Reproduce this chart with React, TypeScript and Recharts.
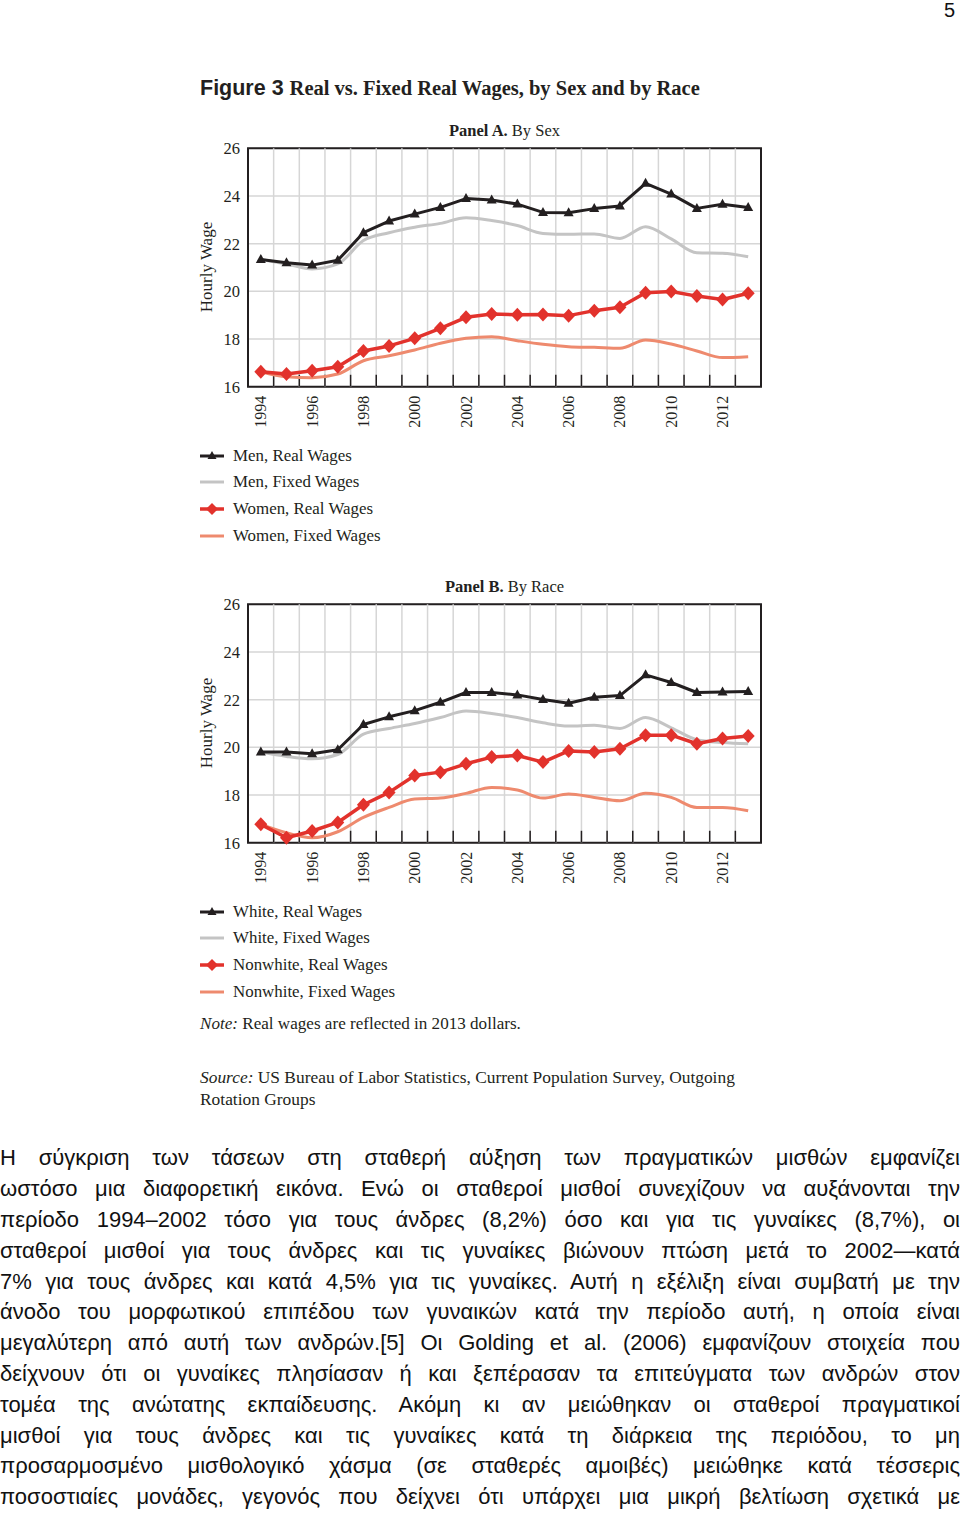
import React from 'react';
import { LineChart, Line, XAxis, YAxis, CartesianGrid, ReferenceLine, ReferenceArea } from 'recharts';

const SERIF = '"Liberation Serif", "DejaVu Serif", serif';
const SANS = '"Liberation Sans", Arial, sans-serif';
const INK = '#231f20';
const GRAY = '#c4c4c4';
const RED = '#e2322c';
const SALMON = '#ee8a6e';
const GRID = '#d6d6d6';

// ---------- data ----------
const years = [1994, 1995, 1996, 1997, 1998, 1999, 2000, 2001, 2002, 2003, 2004, 2005, 2006, 2007, 2008, 2009, 2010, 2011, 2012, 2013];
const yearTickLabels = [1994, 1996, 1998, 2000, 2002, 2004, 2006, 2008, 2010, 2012];
const wageTicks = [16, 18, 20, 22, 24, 26];
const bandEdges = [1994.5, 1995.5, 1996.5, 1997.5, 1998.5, 1999.5, 2000.5, 2001.5, 2002.5, 2003.5, 2004.5, 2005.5, 2006.5, 2007.5, 2008.5, 2009.5, 2010.5, 2011.5, 2012.5];

// Panel A: by sex
const menReal = [21.34, 21.2, 21.1, 21.3, 22.46, 22.95, 23.24, 23.52, 23.89, 23.83, 23.66, 23.31, 23.3, 23.47, 23.58, 24.53, 24.08, 23.48, 23.65, 23.52];
const menFixed = [21.34, 21.15, 20.94, 21.15, 22.13, 22.46, 22.69, 22.85, 23.09, 22.97, 22.76, 22.43, 22.39, 22.41, 22.22, 22.71, 22.2, 21.62, 21.6, 21.45];
const womenReal = [16.63, 16.53, 16.67, 16.84, 17.5, 17.71, 18.03, 18.45, 18.91, 19.05, 19.02, 19.03, 18.98, 19.19, 19.33, 19.94, 19.99, 19.8, 19.66, 19.92];
const womenFixed = [16.63, 16.42, 16.38, 16.53, 17.09, 17.3, 17.54, 17.82, 18.03, 18.1, 17.93, 17.78, 17.68, 17.65, 17.61, 17.96, 17.79, 17.5, 17.22, 17.26];

// Panel B: by race
const whiteReal = [19.8, 19.8, 19.73, 19.9, 20.96, 21.28, 21.54, 21.89, 22.3, 22.3, 22.2, 22.01, 21.85, 22.1, 22.17, 23.04, 22.72, 22.3, 22.32, 22.34];
const whiteFixed = [19.8, 19.62, 19.52, 19.7, 20.55, 20.79, 21.0, 21.25, 21.52, 21.42, 21.25, 21.03, 20.89, 20.93, 20.79, 21.25, 20.82, 20.32, 20.2, 20.15];
const nonwhiteReal = [16.77, 16.21, 16.49, 16.85, 17.59, 18.11, 18.82, 18.96, 19.31, 19.59, 19.66, 19.38, 19.85, 19.8, 19.94, 20.51, 20.51, 20.15, 20.37, 20.48];
const nonwhiteFixed = [16.77, 16.42, 16.21, 16.46, 17.06, 17.48, 17.83, 17.87, 18.07, 18.32, 18.21, 17.87, 18.04, 17.9, 17.76, 18.07, 17.9, 17.48, 17.48, 17.34];

const legendA = ['Men, Real Wages', 'Men, Fixed Wages', 'Women, Real Wages', 'Women, Fixed Wages'];
const legendB = ['White, Real Wages', 'White, Fixed Wages', 'Nonwhite, Real Wages', 'Nonwhite, Fixed Wages'];

const paragraphLines = [
  'Η σύγκριση των τάσεων στη σταθερή αύξηση των πραγματικών μισθών εμφανίζει',
  'ωστόσο μια διαφορετική εικόνα. Ενώ οι σταθεροί μισθοί συνεχίζουν να αυξάνονται την',
  'περίοδο 1994–2002 τόσο για τους άνδρες (8,2%) όσο και για τις γυναίκες (8,7%), οι',
  'σταθεροί μισθοί για τους άνδρες και τις γυναίκες βιώνουν πτώση μετά το 2002—κατά',
  '7% για τους άνδρες και κατά 4,5% για τις γυναίκες. Αυτή η εξέλιξη είναι συμβατή με την',
  'άνοδο του μορφωτικού επιπέδου των γυναικών κατά την περίοδο αυτή, η οποία είναι',
  'μεγαλύτερη από αυτή των ανδρών.[5] Οι Golding et al. (2006) εμφανίζουν στοιχεία που',
  'δείχνουν ότι οι γυναίκες πλησίασαν ή και ξεπέρασαν τα επιτεύγματα των ανδρών στον',
  'τομέα της ανώτατης εκπαίδευσης. Ακόμη κι αν μειώθηκαν οι σταθεροί πραγματικοί',
  'μισθοί για τους άνδρες και τις γυναίκες κατά τη διάρκεια της περιόδου, το μη',
  'προσαρμοσμένο μισθολογικό χάσμα (σε σταθερές αμοιβές) μειώθηκε κατά τέσσερις',
  'ποσοστιαίες μονάδες, γεγονός που δείχνει ότι υπάρχει μια μικρή βελτίωση σχετικά με',
];

// ---------- markers ----------
const triangleDot = (p: any) => {
  const { cx, cy, index } = p;
  if (cx == null || cy == null) return <g key={`t${index}`} />;
  return (
    <polygon key={`t${index}`} points={`${cx},${cy - 5.5} ${cx - 5},${cy + 3.5} ${cx + 5},${cy + 3.5}`} fill={INK} />
  );
};
const diamondDot = (p: any) => {
  const { cx, cy, index } = p;
  if (cx == null || cy == null) return <g key={`d${index}`} />;
  return (
    <polygon key={`d${index}`} points={`${cx},${cy - 7} ${cx + 6.5},${cy} ${cx},${cy + 7} ${cx - 6.5},${cy}`} fill={RED} />
  );
};

const YearTick = (props: any) => {
  const { x, y, payload } = props;
  const ty = y + 9;
  return (
    <text x={x} y={ty} transform={`rotate(-90 ${x} ${ty})`} textAnchor="end" dominantBaseline="central"
      fontFamily={SERIF} fontSize={16} fill={INK}>
      {payload.value}
    </text>
  );
};

type PanelProps = {
  top: number;
  real1: number[];
  fixed1: number[];
  real2: number[];
  fixed2: number[];
};

function Panel({ top, real1, fixed1, real2, fixed2 }: PanelProps) {
  const data = years.map((year, i) => ({
    year,
    real1: real1[i],
    fixed1: fixed1[i],
    real2: real2[i],
    fixed2: fixed2[i],
  }));
  return (
    <div style={{ position: 'absolute', left: 0, top, width: 800, height: 350 }}>
      <LineChart width={800} height={350} data={data} margin={{ top: 48.3, right: 39, bottom: 13.3, left: 190 }}>
        <CartesianGrid vertical={false} stroke={GRID} strokeWidth={1.5} />
        <XAxis dataKey="year" type="number" domain={[1993.5, 2013.5]} ticks={yearTickLabels} interval={0}
          height={50} tickLine={false} axisLine={false} tickSize={0} tickMargin={0} tick={<YearTick />} />
        <YAxis type="number" domain={[16, 26]} ticks={wageTicks} interval={0} width={58}
          tickLine={false} axisLine={false} tickSize={0} tickMargin={8}
          tick={{ fontFamily: SERIF, fontSize: 16.5, fill: INK }} />
        {bandEdges.map((b) => (
          <ReferenceLine key={`g${b}`} x={b} stroke={GRID} strokeWidth={1.5} />
        ))}
        {bandEdges.map((b) => (
          <ReferenceLine key={`k${b}`} segment={[{ x: b, y: 16 }, { x: b, y: 16.5 }]} stroke={INK} strokeWidth={1.5} />
        ))}
        <Line type="monotone" dataKey="fixed1" stroke={GRAY} strokeWidth={3} dot={false} isAnimationActive={false} />
        <Line type="monotone" dataKey="fixed2" stroke={SALMON} strokeWidth={3} dot={false} isAnimationActive={false} />
        <Line type="linear" dataKey="real1" stroke={INK} strokeWidth={3} strokeLinejoin="round" dot={triangleDot} isAnimationActive={false} />
        <Line type="linear" dataKey="real2" stroke={RED} strokeWidth={3.5} strokeLinejoin="round" dot={diamondDot} isAnimationActive={false} />
        <ReferenceArea x1={1993.5} x2={2013.5} y1={16} y2={26} fill="none" fillOpacity={0} stroke={INK} strokeWidth={2} ifOverflow="visible" />
      </LineChart>
    </div>
  );
}

function PanelTitle({ top, bold, rest }: { top: number; bold: string; rest: string }) {
  return (
    <div style={{ position: 'absolute', left: 248, width: 513, top, textAlign: 'center', fontFamily: SERIF, fontSize: 16.5, lineHeight: '20px', color: INK }}>
      <b>{bold}</b>{rest}
    </div>
  );
}

function AxisLabel({ centerY }: { centerY: number }) {
  return (
    <div style={{ position: 'absolute', left: 207 - 60, top: centerY - 10, width: 120, height: 20, lineHeight: '20px', textAlign: 'center', transform: 'rotate(-90deg)', fontFamily: SERIF, fontSize: 17, color: INK }}>
      Hourly Wage
    </div>
  );
}

function LegendMarker({ kind }: { kind: number }) {
  const colors = [INK, GRAY, RED, SALMON];
  const c = colors[kind];
  return (
    <svg width={26} height={16} style={{ position: 'absolute', left: 0, top: 2 }}>
      <line x1={1} x2={25} y1={8} y2={8} stroke={c} strokeWidth={kind === 2 ? 3.5 : 3} />
      {kind === 0 && <polygon points="13,3 8.5,11 17.5,11" fill={INK} />}
      {kind === 2 && <polygon points="13,2 19,8 13,14 7,8" fill={RED} />}
    </svg>
  );
}

function Legend({ top, labels }: { top: number; labels: string[] }) {
  return (
    <>
      {labels.map((label, i) => (
        <div key={label} style={{ position: 'absolute', left: 199, top: top + i * 26.7, height: 20, width: 300 }}>
          <LegendMarker kind={i} />
          <div style={{ position: 'absolute', left: 34, top: 0, lineHeight: '20px', fontFamily: SERIF, fontSize: 16.9, color: INK, whiteSpace: 'nowrap' }}>
            {label}
          </div>
        </div>
      ))}
    </>
  );
}

export default function App() {
  return (
    <div style={{ position: 'absolute', left: 0, top: 0, width: 960, height: 1515, overflow: 'hidden', background: '#fff', color: INK }}>
      <div style={{ position: 'absolute', left: 944, top: 1, fontFamily: SANS, fontSize: 20, lineHeight: '18px', color: '#111' }}>5</div>

      <div style={{ position: 'absolute', left: 200, top: 75, whiteSpace: 'nowrap', lineHeight: '26px', color: INK }}>
        <span style={{ fontFamily: SANS, fontWeight: 700, fontSize: 21.5 }}>Figure 3 </span>
        <span style={{ fontFamily: SERIF, fontWeight: 700, fontSize: 20.5 }}>Real vs. Fixed Real Wages, by Sex and by Race</span>
      </div>

      <PanelTitle top={121} bold="Panel A." rest=" By Sex" />
      <AxisLabel centerY={267} />
      <Panel top={100} real1={menReal} fixed1={menFixed} real2={womenReal} fixed2={womenFixed} />
      <Legend top={445.5} labels={legendA} />

      <PanelTitle top={577} bold="Panel B." rest=" By Race" />
      <AxisLabel centerY={723} />
      <Panel top={556} real1={whiteReal} fixed1={whiteFixed} real2={nonwhiteReal} fixed2={nonwhiteFixed} />
      <Legend top={901.5} labels={legendB} />

      <div style={{ position: 'absolute', left: 200, top: 1013.5, lineHeight: '20px', fontFamily: SERIF, fontSize: 17.1, whiteSpace: 'nowrap' }}>
        <i>Note:</i> Real wages are reflected in 2013 dollars.
      </div>
      <div style={{ position: 'absolute', left: 200, top: 1065.5, lineHeight: '22px', fontFamily: SERIF, fontSize: 17.4, width: 600, whiteSpace: 'nowrap' }}>
        <i>Source:</i> US Bureau of Labor Statistics, Current Population Survey, Outgoing<br />Rotation Groups
      </div>

      {paragraphLines.map((line, i) => (
        <div key={i} style={{ position: 'absolute', left: 0, width: 960, top: 1143.3 + i * 30.8, height: 31, lineHeight: '30.8px', fontFamily: SANS, fontSize: 22, textAlign: 'justify', textAlignLast: 'justify', color: '#111' }}>
          {line}
        </div>
      ))}
    </div>
  );
}
